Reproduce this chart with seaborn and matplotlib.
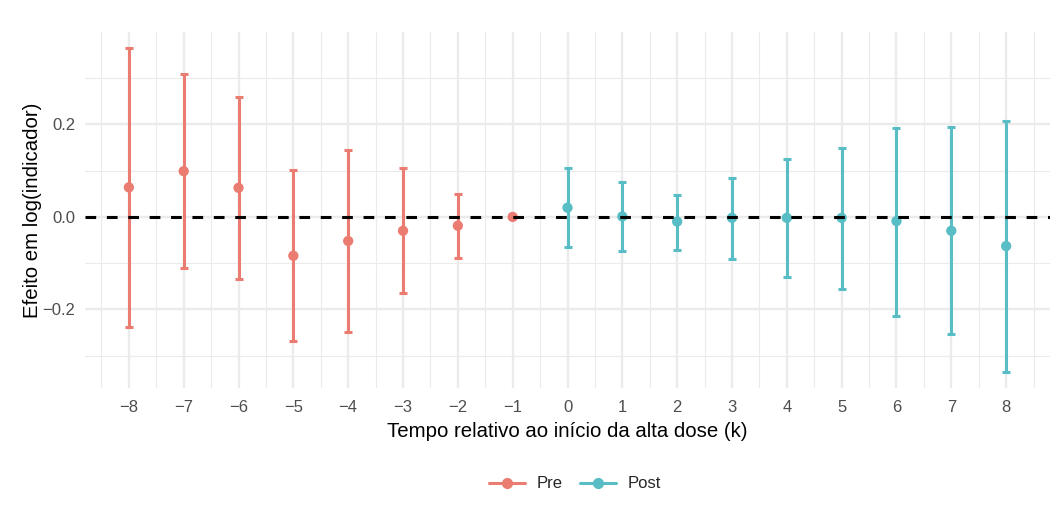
import numpy as np
import pandas as pd
import matplotlib
matplotlib.use("Agg")
import matplotlib.pyplot as plt
from matplotlib.lines import Line2D
import seaborn as sns

k = [-8, -7, -6, -5, -4, -3, -2, -1, 0, 1, 2, 3, 4, 5, 6, 7, 8]
estimate = [0.064, 0.099, 0.063, -0.084, -0.052, -0.030, -0.019, 0.0,
            0.020, 0.001, -0.010, -0.002, -0.002, -0.002, -0.009, -0.030, -0.063]
upper = [0.365, 0.309, 0.259, 0.102, 0.145, 0.106, 0.050, 0.0,
         0.106, 0.076, 0.048, 0.084, 0.125, 0.149, 0.192, 0.194, 0.207]
lower = [-0.237, -0.110, -0.134, -0.268, -0.249, -0.164, -0.089, 0.0,
         -0.065, -0.073, -0.071, -0.091, -0.130, -0.156, -0.214, -0.253, -0.335]
period = ["Pre"] * 8 + ["Post"] * 9

df = pd.DataFrame({"k": k, "estimate": estimate, "upper": upper, "lower": lower, "period": period})
palette = {"Pre": "#EB7C72", "Post": "#58BDC4"}

sns.set_style("white")
plt.rcParams['font.family'] = ['Liberation Sans', 'DejaVu Sans']

fig = plt.figure(figsize=(10.52, 5.13), dpi=100)
ax = fig.add_axes([85/1052, (513-388)/513, (1050-85)/1052, (388-32)/513])

# grid
for x in np.arange(-8.5, 9.0, 1.0):
    ax.axvline(x, color="#EBEBEB", lw=0.8, zorder=0)
for x in range(-8, 9):
    ax.axvline(x, color="#EBEBEB", lw=1.7, zorder=0)
for y in [-0.3, -0.1, 0.1, 0.3]:
    ax.axhline(y, color="#EBEBEB", lw=0.8, zorder=0)
for y in [-0.2, 0.0, 0.2]:
    ax.axhline(y, color="#EBEBEB", lw=1.7, zorder=0)

for per, sub in df.groupby("period"):
    c = palette[per]
    sub = sub[sub["upper"] != sub["lower"]]
    ax.errorbar(sub["k"], sub["estimate"],
                yerr=[sub["estimate"] - sub["lower"], sub["upper"] - sub["estimate"]],
                fmt="none", ecolor=c, elinewidth=2.2, capsize=3, capthick=2.2, zorder=2)

sns.scatterplot(data=df, x="k", y="estimate", hue="period", palette=palette,
                s=55, edgecolor="none", ax=ax, legend=False, zorder=3)

ax.axhline(0, color="black", lw=2.2, ls=(0, (3.5, 3.5)), zorder=4)

ax.set_xlim(-8.8, 8.8)
ax.set_ylim(-0.37, 0.40)
ax.set_xticks(range(-8, 9))
ax.set_xticklabels([str(v).replace("-", "\u2212") for v in range(-8, 9)])
ax.set_yticks([-0.2, 0.0, 0.2])
ax.set_yticklabels(["\u22120.2", "0.0", "0.2"])
ax.tick_params(axis="both", length=0, labelsize=12, labelcolor="#4D4D4D")
ax.tick_params(axis="x", pad=9)
ax.tick_params(axis="y", pad=7)
for s in ax.spines.values():
    s.set_visible(False)

ax.set_xlabel("Tempo relativo ao início da alta dose (k)", fontsize=14.7, color="black", labelpad=5)
ax.set_ylabel("Efeito em log(indicador)", fontsize=14.7, color="black", labelpad=0.5)

handles = [Line2D([0], [0], color=palette[p], lw=2.2, marker="o", markersize=7) for p in ["Pre", "Post"]]
fig.legend(handles, ["Pre", "Post"], loc="center", bbox_to_anchor=(575/1052, 1 - 484/513),
           ncol=2, frameon=False, fontsize=12, handlelength=2.2, columnspacing=1.0, handletextpad=0.7)

fig.savefig("out.png", dpi=100, facecolor="white")
